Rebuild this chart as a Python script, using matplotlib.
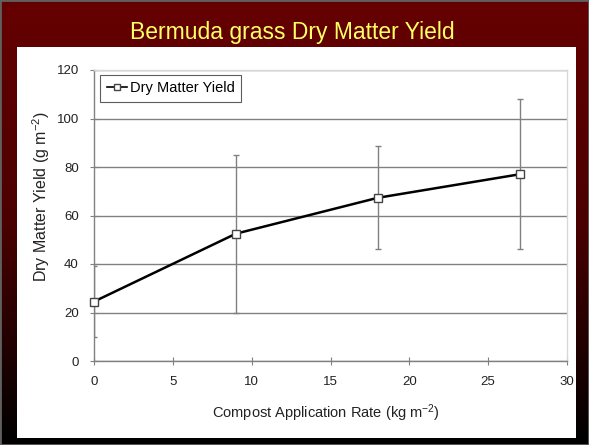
import matplotlib
matplotlib.use('Agg')
import matplotlib.pyplot as plt
from matplotlib.patches import Rectangle
from matplotlib.lines import Line2D
import numpy as np

# data
rate = [0, 9, 18, 27]
dm_yield = [24.5, 52.5, 67.3, 77.0]
dm_err = [14.5, 32.5, 21.3, 31.0]

title = 'Bermuda grass Dry Matter Yield'
xlabel = 'Compost Application Rate (kg m$^{-2}$)'
ylabel = 'Dry Matter Yield (g m$^{-2}$)'

plt.rcParams['font.family'] = ['Liberation Sans', 'DejaVu Sans']
plt.rcParams['mathtext.fontset'] = 'custom'
plt.rcParams['mathtext.rm'] = 'Liberation Sans'
plt.rcParams['mathtext.it'] = 'Liberation Sans'
plt.rcParams['mathtext.default'] = 'regular'

fig = plt.figure(figsize=(5.89, 4.45), dpi=100)

# slide background: dark red fading to black
bg = fig.add_axes([0, 0, 1, 1], zorder=-10)
grad = np.linspace(0, 1, 256).reshape(-1, 1)
cmap = matplotlib.colors.LinearSegmentedColormap.from_list('slide', ['#660000', '#4a0000', '#000000'])
bg.imshow(grad, aspect='auto', cmap=cmap, extent=[0, 1, 0, 1], origin='upper')
bg.set_axis_off()
bg.add_patch(Rectangle((0, 0), 1, 1, transform=bg.transAxes, fill=False,
                       edgecolor='#606060', linewidth=2))

# white panel
fig.patches.append(Rectangle((17 / 589, 1 - 438 / 445), (576 - 17) / 589, (438 - 47) / 445,
                             transform=fig.transFigure, facecolor='white',
                             edgecolor='none', zorder=-5))

fig.text(0.497, 1 - 32 / 445, title, color='#ffff66', fontsize=16.5,
         ha='center', va='center')

ax = fig.add_axes([94 / 589, 1 - 361 / 445, (567 - 94) / 589, (361 - 70) / 445])
ax.errorbar(rate, dm_yield, yerr=dm_err, fmt='none', ecolor='#808080',
            elinewidth=1, capsize=2, capthick=1, zorder=2)
ax.plot(rate, dm_yield, '-s', color='black', linewidth=1.8, markersize=6,
        markerfacecolor='white', markeredgecolor='#444444', markeredgewidth=1,
        zorder=3, clip_on=False)

ax.set_xlim(0, 30)
ax.set_ylim(0, 120)
ax.set_xticks(np.arange(0, 31, 5))
ax.set_yticks(np.arange(0, 121, 20))
ax.yaxis.grid(True, color='#808080', linewidth=1)
ax.set_axisbelow(True)

for side in ['top', 'right']:
    ax.spines[side].set_color('#d8d8d8')
    ax.spines[side].set_linewidth(1)
for side in ['left', 'bottom']:
    ax.spines[side].set_color('#808080')
    ax.spines[side].set_linewidth(1)

ax.tick_params(direction='inout', length=6, color='#808080', labelsize=9.5,
               labelcolor='#222222', pad=8)
ax.set_xlabel(xlabel, fontsize=10.5, color='#222222')
ax.set_ylabel(ylabel, fontsize=11.5, color='#222222')
ax.xaxis.set_label_coords(0.49, -0.142)
ax.yaxis.set_label_coords(-0.088, 0.565)

handle = Line2D([], [], color='black', linewidth=1.2, marker='s', markersize=5,
                markerfacecolor='white', markeredgecolor='#444444', markeredgewidth=1)
leg = ax.legend([handle], ['Dry Matter Yield'], loc='upper left', fontsize=10.5,
                frameon=True, fancybox=False, edgecolor='#333333', handlelength=1.4,
                handletextpad=0.2, borderpad=0.45, borderaxespad=0,
                bbox_to_anchor=(0.013, 0.984))
leg.get_frame().set_linewidth(0.8)

fig.savefig('out.png', dpi=100)
